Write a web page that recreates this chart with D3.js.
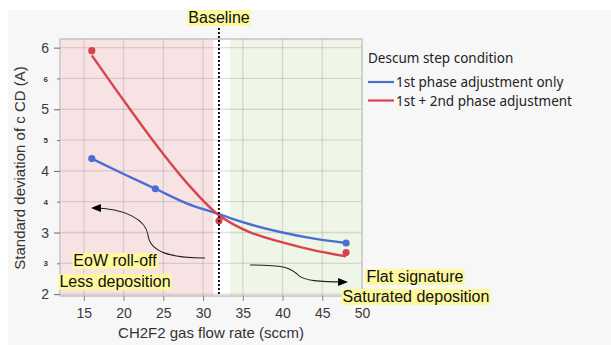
<!DOCTYPE html>
<html>
<head>
<meta charset="utf-8">
<script src="https://cdn.jsdelivr.net/npm/d3@7"></script>
<style>
  body { margin: 0; background: #fff; }
  svg text { font-family: "Liberation Sans", Arial, sans-serif; }
</style>
</head>
<body>
<svg id="chart" width="611" height="345"></svg>
<script>
// measured points (means)
var blueX = [16, 24, 48];
var blueY = [4.20, 3.71, 2.83];
var redX = [16, 32, 48];
var redY = [5.95, 3.19, 2.675];

// fitted curves
var fitX = [16, 20, 24, 28, 32, 34, 36, 40, 44, 48];
var blueFit = [4.20, 3.95, 3.71, 3.47, 3.30, 3.21, 3.13, 3.00, 2.90, 2.83];
var redFit = [5.875, 5.145, 4.44, 3.80, 3.28, 3.12, 3.00, 2.84, 2.71, 2.615];

var seriesNames = ['1st phase adjustment only', '1st + 2nd phase adjustment'];
var seriesColors = ['#4a6ed4', '#d8434e'];

var xTicks = [15, 20, 25, 30, 35, 40, 45, 50];
var yMajor = [2, 3, 4, 5, 6];
var yMinor = [2.5, 3.5, 4.5, 5.5];
var yMinorLabels = ['3', '4', '5', '6'];

var redBand = [12, 31.3];
var greenBand = [33.4, 50];
var baseline = 32;

var svg = d3.select('#chart');
var pL = 60, pR = 362, pT = 39, pB = 296;

var x = d3.scaleLinear().domain([12, 50]).range([pL, pR]);
var y = d3.scaleLinear().domain([1.97, 6.14]).range([pB, pT]);

// outer grey panel
svg.append('rect').attr('x', 8).attr('y', 10).attr('width', 603).attr('height', 335).attr('fill', '#f7f7f7');
svg.append('rect').attr('x', pL).attr('y', pT).attr('width', pR - pL).attr('height', pB - pT).attr('fill', '#fff');

// shaded regions
svg.append('rect').attr('x', x(redBand[0]) + 1).attr('y', pT).attr('width', x(redBand[1]) - x(redBand[0]) - 1)
  .attr('height', pB - pT).attr('fill', '#f8e3e4');
svg.append('rect').attr('x', x(greenBand[0])).attr('y', pT).attr('width', x(greenBand[1]) - x(greenBand[0]))
  .attr('height', pB - pT).attr('fill', '#eff6e7');

// grid
var grid = svg.append('g').attr('stroke', 'rgba(120,110,110,0.22)').attr('stroke-width', 1.3);
yMajor.concat(yMinor).forEach(function (v) {
  grid.append('line').attr('x1', pL).attr('x2', pR).attr('y1', y(v)).attr('y2', y(v));
});
xTicks.slice(0, -1).forEach(function (v) {
  grid.append('line').attr('x1', x(v)).attr('x2', x(v)).attr('y1', pT).attr('y2', pB);
});

// frame
svg.append('rect').attr('x', pL).attr('y', pT).attr('width', pR - pL).attr('height', pB - pT)
  .attr('fill', 'none').attr('stroke', '#c4c4c4').attr('stroke-width', 1.5);

// axes
var xAxis = d3.axisBottom(x).tickValues(xTicks).tickSize(5).tickPadding(7);
var gx = svg.append('g').attr('transform', 'translate(0,' + pB + ')').call(xAxis);
gx.select('.domain').remove();
gx.selectAll('line').attr('stroke', '#888');
gx.selectAll('text').attr('font-size', 14).attr('fill', '#3a3a3a').attr('font-family', '"Liberation Sans", Arial');

var yAxis = d3.axisLeft(y).tickValues(yMajor).tickSize(6).tickPadding(5).tickFormat(d3.format('d'));
var gy = svg.append('g').attr('transform', 'translate(' + pL + ',0)').call(yAxis);
gy.select('.domain').remove();
gy.selectAll('line').attr('stroke', '#666');
gy.selectAll('text').attr('font-size', 14).attr('fill', '#3a3a3a').attr('font-family', '"Liberation Sans", Arial');

var yAxisMinor = d3.axisLeft(y).tickValues(yMinor).tickSize(3).tickPadding(9)
  .tickFormat(function (d, i) { return yMinorLabels[i]; });
var gy2 = svg.append('g').attr('transform', 'translate(' + pL + ',0)').call(yAxisMinor);
gy2.select('.domain').remove();
gy2.selectAll('line').attr('stroke', '#777');
gy2.selectAll('text').attr('font-size', 8).attr('fill', '#3a3a3a').attr('font-weight', 'bold');

// axis titles
svg.append('text').attr('x', 211).attr('y', 338).attr('text-anchor', 'middle')
  .attr('font-size', 15).attr('fill', '#333').text('CH2F2 gas flow rate (sccm)');
svg.append('text').attr('transform', 'translate(25,168) rotate(-90)').attr('text-anchor', 'middle')
  .attr('font-size', 15).attr('fill', '#333').text('Standard deviation of c CD (A)');

// fitted lines
var line = d3.line().x(function (d) { return x(d[0]); }).y(function (d) { return y(d[1]); }).curve(d3.curveMonotoneX);
[blueFit, redFit].forEach(function (vals, i) {
  svg.append('path').datum(fitX.map(function (v, j) { return [v, vals[j]]; }))
    .attr('d', line).attr('fill', 'none').attr('stroke', seriesColors[i]).attr('stroke-width', 2.4);
});

// points
[[blueX, blueY], [redX, redY]].forEach(function (s, i) {
  svg.append('g').selectAll('circle').data(s[0]).enter().append('circle')
    .attr('cx', function (d) { return x(d); })
    .attr('cy', function (d, j) { return y(s[1][j]); })
    .attr('r', 3.6).attr('fill', seriesColors[i]);
});

// baseline
svg.append('line').attr('x1', x(baseline)).attr('x2', x(baseline)).attr('y1', 28).attr('y2', pB)
  .attr('stroke', '#111').attr('stroke-width', 2).attr('stroke-dasharray', '2,2');

// highlighted labels
function label(txt, cx, cy, size) {
  var g = svg.append('g');
  var t = g.append('text').attr('x', cx).attr('y', cy).attr('text-anchor', 'middle')
    .attr('font-size', size).attr('fill', '#111').text(txt);
  var b = t.node().getBBox();
  g.insert('rect', 'text').attr('x', b.x - 1).attr('y', b.y + 1).attr('width', b.width + 2)
    .attr('height', b.height - 1).attr('fill', '#fdf89c');
}
label('Baseline', 219, 23, 16);
label('EoW roll-off', 115, 266, 16);
label('Less deposition', 115, 287, 16);
label('Flat signature', 415, 282, 16);
label('Saturated deposition', 416, 302, 16);

// arrows
var defs = svg.append('defs');
defs.append('marker').attr('id', 'ah').attr('viewBox', '0 0 10 10').attr('refX', 8).attr('refY', 5)
  .attr('markerWidth', 9).attr('markerHeight', 9).attr('orient', 'auto-start-reverse')
  .append('path').attr('d', 'M0,1 L10,5 L0,9 z').attr('fill', '#000');
svg.append('path').attr('d', 'M205,258 C170,258 150,252 148,235 C146,220 125,208 93,208')
  .attr('fill', 'none').attr('stroke', '#222').attr('stroke-width', 1.1).attr('marker-end', 'url(#ah)');
svg.append('path').attr('d', 'M250,265 C285,265 290,268 297,274 C303,281 320,282 346,282')
  .attr('fill', 'none').attr('stroke', '#222').attr('stroke-width', 1.1).attr('marker-end', 'url(#ah)');

// legend
var lg = svg.append('g');
lg.append('text').attr('x', 368).attr('y', 63).attr('font-size', 13.5).attr('fill', '#222')
  .style('font-family', '"Noto Sans", sans-serif').text('Descum step condition');
seriesNames.forEach(function (n, i) {
  var yy = 82 + i * 18.5;
  lg.append('line').attr('x1', 368).attr('x2', 394).attr('y1', yy).attr('y2', yy)
    .attr('stroke', seriesColors[i]).attr('stroke-width', 2.2);
  lg.append('text').attr('x', 396).attr('y', yy + 5).attr('font-size', 13.5).attr('fill', '#222')
    .style('font-family', '"Noto Sans", sans-serif').text(n);
});
</script>
</body>
</html>
